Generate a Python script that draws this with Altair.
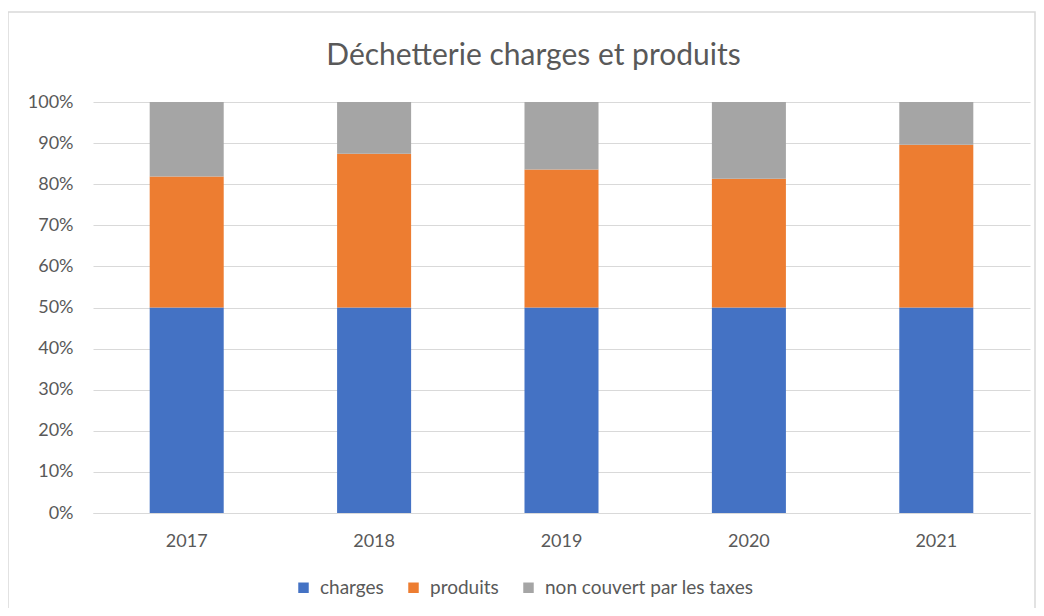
import altair as alt
import pandas as pd

title_text = "Déchetterie charges et produits"
years = ["2017", "2018", "2019", "2020", "2021"]
series = ["charges", "produits", "non couvert par les taxes"]
charges = [50.0, 50.0, 50.0, 50.0, 50.0]
produits = [31.9, 37.4, 33.6, 31.3, 39.6]
non_couvert = [18.1, 12.6, 16.4, 18.7, 10.4]
colors = ["#4472C4", "#ED7D31", "#A5A5A5"]

rows = []
for i, y in enumerate(years):
    for k, (s, vals) in enumerate(zip(series, [charges, produits, non_couvert])):
        rows.append({"year": y, "serie": s, "value": vals[i], "idx": k})
df = pd.DataFrame(rows)

FONT = "Lato"
GREY = "#595959"

W, H = 937, 411

bars = alt.Chart(df).mark_bar().encode(
    x=alt.X("year:N", sort=years, title=None,
            scale=alt.Scale(paddingInner=0.605, paddingOuter=0.3025),
            axis=alt.Axis(labelAngle=0, labelFontSize=18, labelColor=GREY, labelFont=FONT,
                          ticks=False, domain=True, domainColor="#D9D9D9", labelPadding=19)),
    y=alt.Y("value:Q", stack="normalize", title=None,
            scale=alt.Scale(domain=[0, 1]),
            axis=alt.Axis(format=".0%", values=[i / 10 for i in range(11)], labelFontSize=18,
                          labelColor=GREY, labelFont=FONT, ticks=False, domain=False,
                          gridColor="#D9D9D9", gridWidth=1, labelPadding=20)),
    color=alt.Color("serie:N", sort=series, scale=alt.Scale(domain=series, range=colors),
                    legend=alt.Legend(title=None, orient="none", direction="horizontal",
                                      legendX=201, legendY=476, symbolType="square",
                                      symbolSize=110, symbolStrokeWidth=0, labelFontSize=19,
                                      labelColor=GREY, labelFont=FONT, columnPadding=20,
                                      symbolOffset=0, labelOffset=7, labelLimit=0)),
    order=alt.Order("idx:Q", sort="ascending"),
)

frame = alt.Chart(pd.DataFrame({"a": [0]})).mark_rect(
    fill=None, stroke="#D9D9D9", strokeWidth=1.5
).encode(
    x=alt.value(-85), x2=alt.value(W + 5), y=alt.value(-90), y2=alt.value(H + 110)
)

title = alt.Chart(pd.DataFrame({"t": [title_text]})).mark_text(
    font=FONT, fontSize=30, color=GREY, align="center", baseline="middle"
).encode(
    text="t:N", x=alt.value(W / 2 - 28), y=alt.value(-46)
)

chart = alt.layer(frame, bars, title).properties(
    width=W, height=H,
    autosize=alt.AutoSizeParams(type="none"),
    padding={"left": 85, "top": 94, "right": 6, "bottom": 95},
).configure_view(stroke=None)

chart.save("out.html", embed_options={"renderer": "svg", "actions": False})
